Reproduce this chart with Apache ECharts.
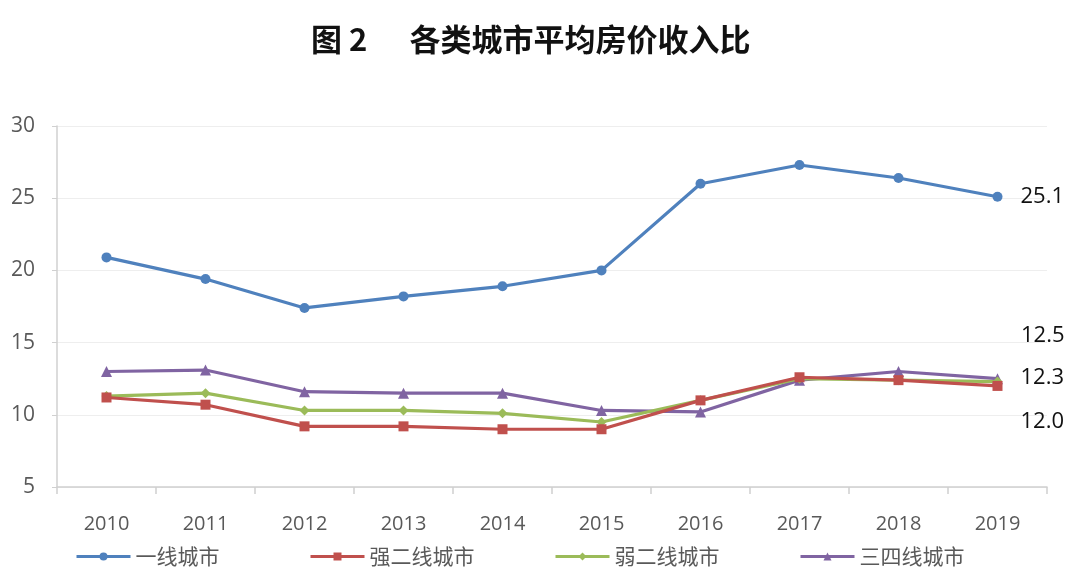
<!DOCTYPE html>
<html><head><meta charset="utf-8">
<script src="https://cdn.jsdelivr.net/npm/echarts@6/dist/echarts.min.js"></script>
<style>html,body{margin:0;padding:0;background:#fff}#c{width:1080px;height:584px}</style>
</head><body><div id="c"></div>
<script>
const categories = ['2010','2011','2012','2013','2014','2015','2016','2017','2018','2019'];
const tier1 = [20.9, 19.4, 17.4, 18.2, 18.9, 20.0, 26.0, 27.3, 26.4, 25.1];
const strongTier2 = [11.2, 10.7, 9.2, 9.2, 9.0, 9.0, 11.0, 12.6, 12.4, 12.0];
const weakTier2 = [11.3, 11.5, 10.3, 10.3, 10.1, 9.5, 11.0, 12.5, 12.4, 12.3];
const tier34 = [13.0, 13.1, 11.6, 11.5, 11.5, 10.3, 10.2, 12.4, 13.0, 12.5];
const seriesNames = ['一线城市','强二线城市','弱二线城市','三四线城市'];
const yTicks = [5, 10, 15, 20, 25, 30];

const colors = ['#4f81bd','#c0504d','#9bbb59','#8064a2'];
const symbols = ['circle','rect','diamond','triangle'];
const symbolSizes = [10, 10, 10, 11];
const dataSets = [tier1, strongTier2, weakTier2, tier34];
const labelOffsets = [[0,0],[0,36],[0,-4],[0,-43]];
const fontNum = '"Open Sans", "Noto Sans", sans-serif';
const fontCJK = '"Noto Sans CJK SC", sans-serif';

const series = dataSets.map((d, i) => ({
  name: seriesNames[i],
  type: 'line',
  data: d.map((v, j) => j === d.length - 1 ? {
    value: v,
    label: {show: true, position: 'right', distance: 18, offset: labelOffsets[i],
      formatter: p => p.value.toFixed(1), color: '#111', fontSize: 22, fontFamily: fontNum}
  } : v),
  symbol: symbols[i],
  symbolSize: symbolSizes[i],
  showAllSymbol: true,
  lineStyle: {color: colors[i], width: 3.2},
  itemStyle: {color: colors[i]},
  z: 10 - i,
  animation: false
}));

const legendLefts = [70, 304, 549, 794];
const legends = seriesNames.map((n, i) => ({
  data: [n], left: legendLefts[i], top: 541, itemWidth: 54, itemHeight: 10, itemGap: 4,
  lineStyle: {width: 3},
  textStyle: {color: '#595959', fontSize: 21, fontFamily: fontCJK}
}));

const chart = echarts.init(document.getElementById('c'));
chart.setOption({
  backgroundColor: '#fff',
  animation: false,
  title: {
    text: '图 2      各类城市平均房价收入比', left: 306, top: 19,
    textStyle: {fontSize: 31, fontWeight: 'bold', color: '#111', fontFamily: fontCJK}
  },
  legend: legends,
  grid: {left: 57, right: 33, top: 126, bottom: 97, containLabel: false},
  xAxis: {
    type: 'category', data: categories, boundaryGap: true,
    axisLine: {show: true, lineStyle: {color: '#d0d0d0', width: 1.5}},
    axisTick: {show: true, alignWithLabel: false, length: 7, lineStyle: {color: '#d0d0d0', width: 1.5}},
    axisLabel: {color: '#595959', fontSize: 20, fontFamily: fontNum, margin: 27},
    splitLine: {show: false}
  },
  yAxis: {
    type: 'value', min: yTicks[0], max: yTicks[yTicks.length-1], interval: 5,
    axisLine: {show: true, lineStyle: {color: '#d0d0d0', width: 1.5}},
    axisTick: {show: true, length: 5, lineStyle: {color: '#d0d0d0'}},
    axisLabel: {color: '#595959', fontSize: 21, fontFamily: fontNum, margin: 22},
    splitLine: {show: true, lineStyle: {color: '#eeeeee', width: 1}}
  },
  series: series
});
</script></body></html>
